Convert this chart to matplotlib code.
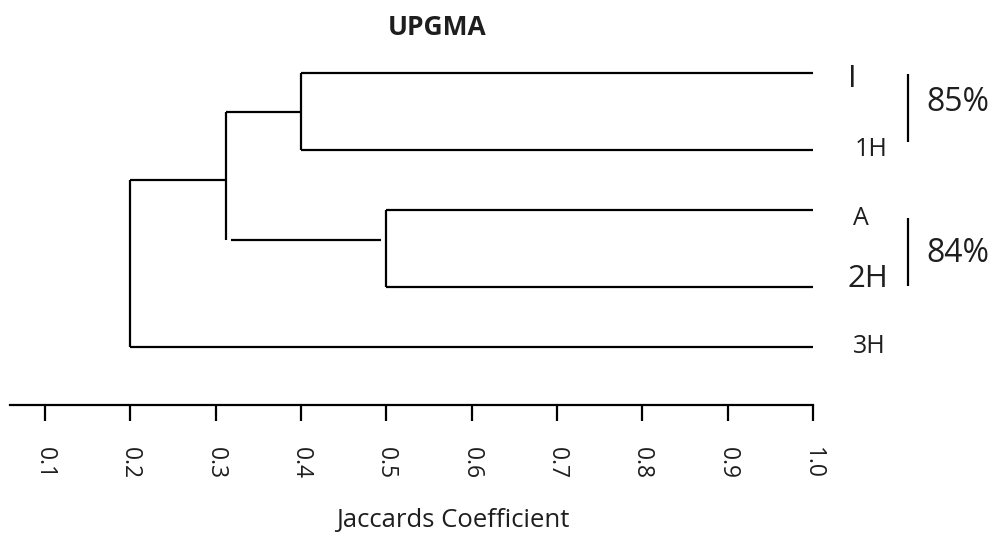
import matplotlib
matplotlib.use("Agg")
import matplotlib.pyplot as plt

plt.rcParams['font.family'] = ['Open Sans', 'DejaVu Sans']

# ---- data ----
leaves = ['I', '1H', 'A', '2H', '3H']
leaf_pos = [0.0, 1.0, 1.779, 2.779, 3.558]          # vertical order of leaves
merge_pairs = [(0, 1), (2, 3), (5, 6), (7, 4)]      # clusters 5,6,7,8
merge_heights = [0.40, 0.50, 0.312, 0.20]           # Jaccard coefficient
tick_values = [0.1, 0.2, 0.3, 0.4, 0.5, 0.6, 0.7, 0.8, 0.9, 1.0]
tick_labels = ['0.1', '0.2', '0.3', '0.4', '0.5', '0.6', '0.7', '0.8', '0.9', '1.0']
group_labels = ['85%', '84%']
group_members = [(0, 1), (2, 3)]

# ---- style / layout ----
W, H = 992, 536
LW = 1.6
TXT = '#1e1e1e'
big = {'I', '2H'}
label_x = {'I': 1.041, '1H': 1.049, 'A': 1.047, '2H': 1.040, '3H': 1.047}
label_base = {'I': 0.182, '1H': 0.078, 'A': 0.195, '2H': 0.0, '3H': 0.078}
branch_shift = {6: -0.11}
branch_gap = {6: 0.006}

fig = plt.figure(figsize=(W / 100, H / 100), dpi=100)
ax = fig.add_axes([10 / W, (H - 405) / H, 803 / W, (405 - 50) / H])
ax.set_xlim(0.059, 1.0)
ax.set_ylim(4.312, -0.299)

# node positions
node_h = {i: 1.0 for i in range(len(leaves))}
node_y = {i: leaf_pos[i] for i in range(len(leaves))}
for k, ((a, b), h) in enumerate(zip(merge_pairs, merge_heights)):
    nid = len(leaves) + k
    node_h[nid] = h
    node_y[nid] = (node_y[a] + node_y[b]) / 2

def by(n):
    return node_y[n] + branch_shift.get(n, 0.0)

for k, (a, b) in enumerate(merge_pairs):
    nid = len(leaves) + k
    h = node_h[nid]
    ax.plot([h, h], [by(a), by(b)], color='black', lw=LW, solid_capstyle='butt')
    for c in (a, b):
        g = branch_gap.get(c, 0.0)
        ax.plot([h + g, node_h[c] - g], [by(c), by(c)], color='black', lw=LW,
                solid_capstyle='butt')

# leaf labels
for i, name in enumerate(leaves):
    ax.text(label_x[name], leaf_pos[i] + label_base[name], name, ha='left',
            va='baseline', fontsize=22.5 if name in big else 18, color=TXT,
            clip_on=False)

# group brackets
bracket_x = 1.111
bracket_ext = [(0.013, -0.104), (0.104, -0.013)]
pct_base = [0.494, 0.676]
for (a, b), lab, (e0, e1), pb in zip(group_members, group_labels, bracket_ext, pct_base):
    ax.plot([bracket_x, bracket_x], [leaf_pos[a] + e0, leaf_pos[b] + e1],
            color='black', lw=LW, clip_on=False, solid_capstyle='butt')
    ax.text(1.133, leaf_pos[a] + pb, lab, ha='left', va='baseline',
            fontsize=23, color=TXT, clip_on=False)

# axis
for s in ['top', 'left', 'right']:
    ax.spines[s].set_visible(False)
ax.spines['bottom'].set_linewidth(LW)
ax.set_yticks([])
ax.set_xticks(tick_values)
ax.set_xticklabels(tick_labels)
ax.tick_params(axis='x', length=11.5, width=LW, pad=18.5, labelsize=16.5,
               labelrotation=270, labelcolor=TXT)

fig.text(437 / W, 1 - 35 / H, 'UPGMA', ha='center', va='baseline',
         fontsize=19, fontweight='bold', color=TXT)
fig.text(453 / W, 1 - 527 / H, 'Jaccards Coefficient', ha='center',
         va='baseline', fontsize=18.5, color=TXT)

fig.savefig('out.png', dpi=100)
